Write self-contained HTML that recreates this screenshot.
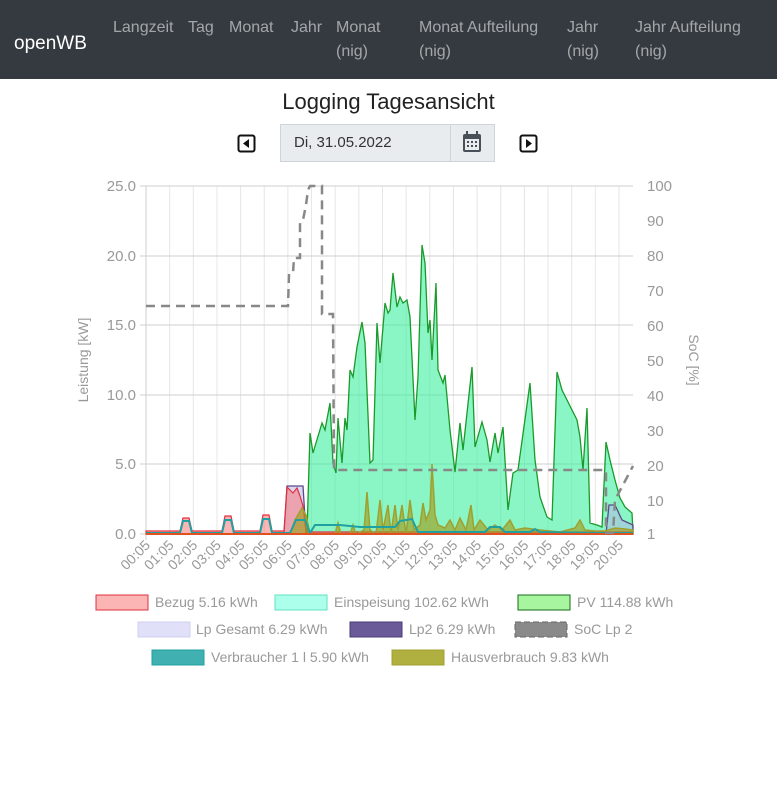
<!DOCTYPE html><html><head><meta charset="utf-8"><style>
body{margin:0;width:777px;height:795px;background:#fff;font-family:"Liberation Sans",sans-serif;overflow:hidden;position:relative}
.nav{position:absolute;left:0;top:0;width:777px;height:79px;background:#343a40}
.nav span{position:absolute;color:rgba(255,255,255,.55);font-size:16px;line-height:24px}
.brand{color:#fff!important;font-size:19px!important}
</style></head><body>
<div class="nav">
<span class="brand" style="left:14px;top:32px">openWB</span>
<span style="left:113px;top:16px">Langzeit</span>
<span style="left:188px;top:16px">Tag</span>
<span style="left:229px;top:16px">Monat</span>
<span style="left:291px;top:16px">Jahr</span>
<span style="left:336px;top:16px">Monat<br>(nig)</span>
<span style="left:419px;top:16px">Monat Aufteilung<br>(nig)</span>
<span style="left:567px;top:16px">Jahr<br>(nig)</span>
<span style="left:635px;top:16px">Jahr Aufteilung<br>(nig)</span>
</div>
<div style="position:absolute;left:0;width:777px;top:89px;text-align:center;font-size:22px;color:#222">Logging Tagesansicht</div>
<div style="position:absolute;left:280px;top:124px;width:215px;height:38px;background:#e9ecef;border:1px solid #ced4da;box-sizing:border-box"></div>
<div style="position:absolute;left:450px;top:124px;width:1px;height:38px;background:#ced4da"></div>
<div style="position:absolute;left:294px;top:134px;font-size:15px;color:#333">Di, 31.05.2022</div>
<svg style="position:absolute;left:0;top:0" width="777" height="795">
<rect x="463" y="134" width="18" height="18" rx="2" fill="#495057"/><rect x="466" y="131" width="2" height="5" fill="#495057"/><rect x="476" y="131" width="2" height="5" fill="#495057"/>
<rect x="465" y="139" width="14" height="11" fill="#e9ecef"/>
<g fill="#495057"><rect x="467" y="141" width="2" height="2"/><rect x="471" y="141" width="2" height="2"/><rect x="475" y="141" width="2" height="2"/><rect x="467" y="145" width="2" height="2"/><rect x="471" y="145" width="2" height="2"/><rect x="475" y="145" width="2" height="2"/></g>
<rect x="238.5" y="135.5" width="16" height="16" rx="2" fill="none" stroke="#111" stroke-width="2"/><path d="M249 139 L243 143.5 L249 148Z" fill="#111"/>
<rect x="520.5" y="135.5" width="16" height="16" rx="2" fill="none" stroke="#111" stroke-width="2"/><path d="M526 139 L532 143.5 L526 148Z" fill="#111"/>
<g stroke="#e6e6e6" stroke-width="1">
<line x1="169.65" y1="186" x2="169.65" y2="534"/><line x1="193.3" y1="186" x2="193.3" y2="534"/><line x1="216.95" y1="186" x2="216.95" y2="534"/><line x1="240.6" y1="186" x2="240.6" y2="534"/><line x1="264.25" y1="186" x2="264.25" y2="534"/><line x1="287.9" y1="186" x2="287.9" y2="534"/><line x1="311.55" y1="186" x2="311.55" y2="534"/><line x1="335.2" y1="186" x2="335.2" y2="534"/><line x1="358.85" y1="186" x2="358.85" y2="534"/><line x1="382.5" y1="186" x2="382.5" y2="534"/><line x1="406.15" y1="186" x2="406.15" y2="534"/><line x1="429.8" y1="186" x2="429.8" y2="534"/><line x1="453.45" y1="186" x2="453.45" y2="534"/><line x1="477.1" y1="186" x2="477.1" y2="534"/><line x1="500.75" y1="186" x2="500.75" y2="534"/><line x1="524.4" y1="186" x2="524.4" y2="534"/><line x1="548.05" y1="186" x2="548.05" y2="534"/><line x1="571.7" y1="186" x2="571.7" y2="534"/><line x1="595.35" y1="186" x2="595.35" y2="534"/><line x1="619" y1="186" x2="619" y2="534"/>
</g>
<g stroke="#cfcfcf" stroke-width="1">
<line x1="140" y1="186" x2="633" y2="186"/><line x1="140" y1="256" x2="633" y2="256"/><line x1="140" y1="325" x2="633" y2="325"/><line x1="140" y1="395" x2="633" y2="395"/><line x1="140" y1="464" x2="633" y2="464"/><line x1="140" y1="534" x2="633" y2="534"/>
<line x1="146" y1="186" x2="146" y2="540"/>
</g>
<g font-size="15" fill="#999" text-anchor="end">
<text x="136" y="191">25.0</text><text x="136" y="261">20.0</text><text x="136" y="330">15.0</text><text x="136" y="400">10.0</text><text x="136" y="469">5.0</text><text x="136" y="539">0.0</text>
</g>
<g font-size="15" fill="#999">
<text x="647" y="191">100</text><text x="647" y="226">90</text><text x="647" y="261">80</text><text x="647" y="296">70</text><text x="647" y="331">60</text><text x="647" y="366">50</text><text x="647" y="401">40</text><text x="647" y="436">30</text><text x="647" y="471">20</text><text x="647" y="506">10</text><text x="647" y="539">1</text>
</g>
<text transform="translate(88,360) rotate(-90)" font-size="14" fill="#999" text-anchor="middle">Leistung [kW]</text>
<text transform="translate(689,360) rotate(90)" font-size="14" fill="#999" text-anchor="middle">SoC [%]</text>
<g font-size="14" fill="#999" text-anchor="end">
<text transform="translate(151,546) rotate(-45)">00:05</text><text transform="translate(174.65,546) rotate(-45)">01:05</text><text transform="translate(198.3,546) rotate(-45)">02:05</text><text transform="translate(221.95,546) rotate(-45)">03:05</text><text transform="translate(245.6,546) rotate(-45)">04:05</text><text transform="translate(269.25,546) rotate(-45)">05:05</text><text transform="translate(292.9,546) rotate(-45)">06:05</text><text transform="translate(316.55,546) rotate(-45)">07:05</text><text transform="translate(340.2,546) rotate(-45)">08:05</text><text transform="translate(363.85,546) rotate(-45)">09:05</text><text transform="translate(387.5,546) rotate(-45)">10:05</text><text transform="translate(411.15,546) rotate(-45)">11:05</text><text transform="translate(434.8,546) rotate(-45)">12:05</text><text transform="translate(458.45,546) rotate(-45)">13:05</text><text transform="translate(482.1,546) rotate(-45)">14:05</text><text transform="translate(505.75,546) rotate(-45)">15:05</text><text transform="translate(529.4,546) rotate(-45)">16:05</text><text transform="translate(553.05,546) rotate(-45)">17:05</text><text transform="translate(576.7,546) rotate(-45)">18:05</text><text transform="translate(600.35,546) rotate(-45)">19:05</text><text transform="translate(624,546) rotate(-45)">20:05</text>
</g>
<path d="M300,534 L307,533 L310,433 L313,453 L322,423 L325,430 L330,403 L333,463 L336,473 L338,418 L342,463 L345,418 L347,430 L350,370 L353,377 L357,347 L362,322 L365,343 L370,463 L373,460 L377,323 L380,363 L385,303 L388,313 L390,310 L393,273 L397,307 L400,297 L403,303 L407,300 L410,317 L415,420 L418,377 L422,245 L425,263 L428,333 L430,320 L432,360 L436,283 L438,370 L443,383 L445,375 L450,430 L455,472 L460,423 L463,450 L472,367 L475,447 L482,422 L487,440 L490,462 L495,433 L498,453 L503,427 L508,510 L513,473 L518,470 L530,383 L535,460 L540,497 L547,517 L552,520 L557,372 L562,390 L567,400 L577,420 L580,437 L583,470 L587,408 L590,523 L597,525 L602,527 L606,442 L610,460 L615,480 L620,498 L625,507 L632,513 L633,533 L633,534 Z" fill="rgba(60,240,160,0.6)" stroke="#1a9a2a" stroke-width="1.3"/>
<path d="M284,534 L287,486 L303,486 L306,534Z M606,534 L609,505 L615,505 L622,520 L633,525 L633,534Z" fill="rgba(180,180,230,0.5)" stroke="#5a4a8a" stroke-width="1.3"/>
<path d="M146,531 L180,531 L183,518 L189,518 L192,531 L222,531 L225,516 L231,516 L234,531 L260,531 L263,515 L269,515 L272,531 L284,531 L287,487 L293,493 L297,488 L300,496 L303,506 L306,532 L633,532 L633,534 L146,534Z" fill="rgba(250,120,120,0.55)" stroke="#e03040" stroke-width="1.2"/>
<path d="M290,534 L295,520 L302,508 L306,515 L310,534 L335,534 L338,523 L341,534 L350,534 L353,525 L356,534 L364,530 L367,492 L370,530 L376,534 L380,500 L383,530 L388,505 L391,534 L395,505 L398,530 L402,505 L406,534 L410,500 L414,530 L420,525 L423,503 L426,520 L430,510 L432,464 L435,515 L438,525 L445,528 L450,520 L455,530 L460,518 L466,530 L471,505 L474,530 L480,520 L488,530 L495,525 L502,530 L510,520 L515,530 L525,528 L540,530 L560,532 L575,528 L580,520 L585,530 L595,531 L605,531 L615,528 L625,529 L633,530 L633,534Z" fill="rgba(160,160,30,0.65)" stroke="#a0a030" stroke-width="1.5"/>
<polyline points="146,533 180,533 183,521 189,521 192,533 222,533 225,520 231,520 234,533 260,533 263,519 269,519 272,533 290,533 296,520 305,520 310,533 315,525 340,525 360,527 395,527 400,521 412,519 418,532 485,532 490,527 500,527 505,532 530,532 535,529 540,532 600,533 633,533" fill="none" stroke="#20a0a0" stroke-width="2"/>
<line x1="146" y1="534" x2="633" y2="534" stroke="#e05020" stroke-width="2"/>
<polyline points="146,306 288,306 289,274 293,273 294,258 300,258 300,222 303,220 306,205 308,190 310,186 314,186 322,186 322,314 333,314 334,470 606,470 606,533 613,533 615,500 633,466" fill="none" stroke="#888" stroke-width="2.5" stroke-dasharray="9,6"/>
<g font-size="14" fill="#999">
<rect x="96" y="595" width="52" height="15" fill="rgba(250,120,120,0.55)" stroke="#e03040"/>
<text x="155" y="607">Bezug 5.16 kWh</text>
<rect x="275" y="595" width="52" height="15" fill="rgba(150,255,230,0.8)" stroke="#60e0c0"/>
<text x="334" y="607">Einspeisung 102.62 kWh</text>
<rect x="518" y="595" width="52" height="15" fill="#a8f5a0" stroke="#1a6a1a"/>
<text x="577" y="607">PV 114.88 kWh</text>
<rect x="138" y="622" width="52" height="15" fill="#e0e0f8" stroke="#d0d0f0"/>
<text x="196" y="634">Lp Gesamt 6.29 kWh</text>
<rect x="350" y="622" width="52" height="15" fill="#6a5a98" stroke="#4a3a78"/>
<text x="409" y="634">Lp2 6.29 kWh</text>
<rect x="515" y="622" width="52" height="15" fill="#8a8a8a" stroke="#666" stroke-dasharray="6,3"/>
<text x="574" y="634">SoC Lp 2</text>
<rect x="152" y="650" width="52" height="15" fill="#40b0b0" stroke="#20a0a0"/>
<text x="211" y="662">Verbraucher 1 l 5.90 kWh</text>
<rect x="392" y="650" width="52" height="15" fill="#b0b040" stroke="#a0a030"/>
<text x="451" y="662">Hausverbrauch 9.83 kWh</text>
</g>
</svg>
</body></html>
